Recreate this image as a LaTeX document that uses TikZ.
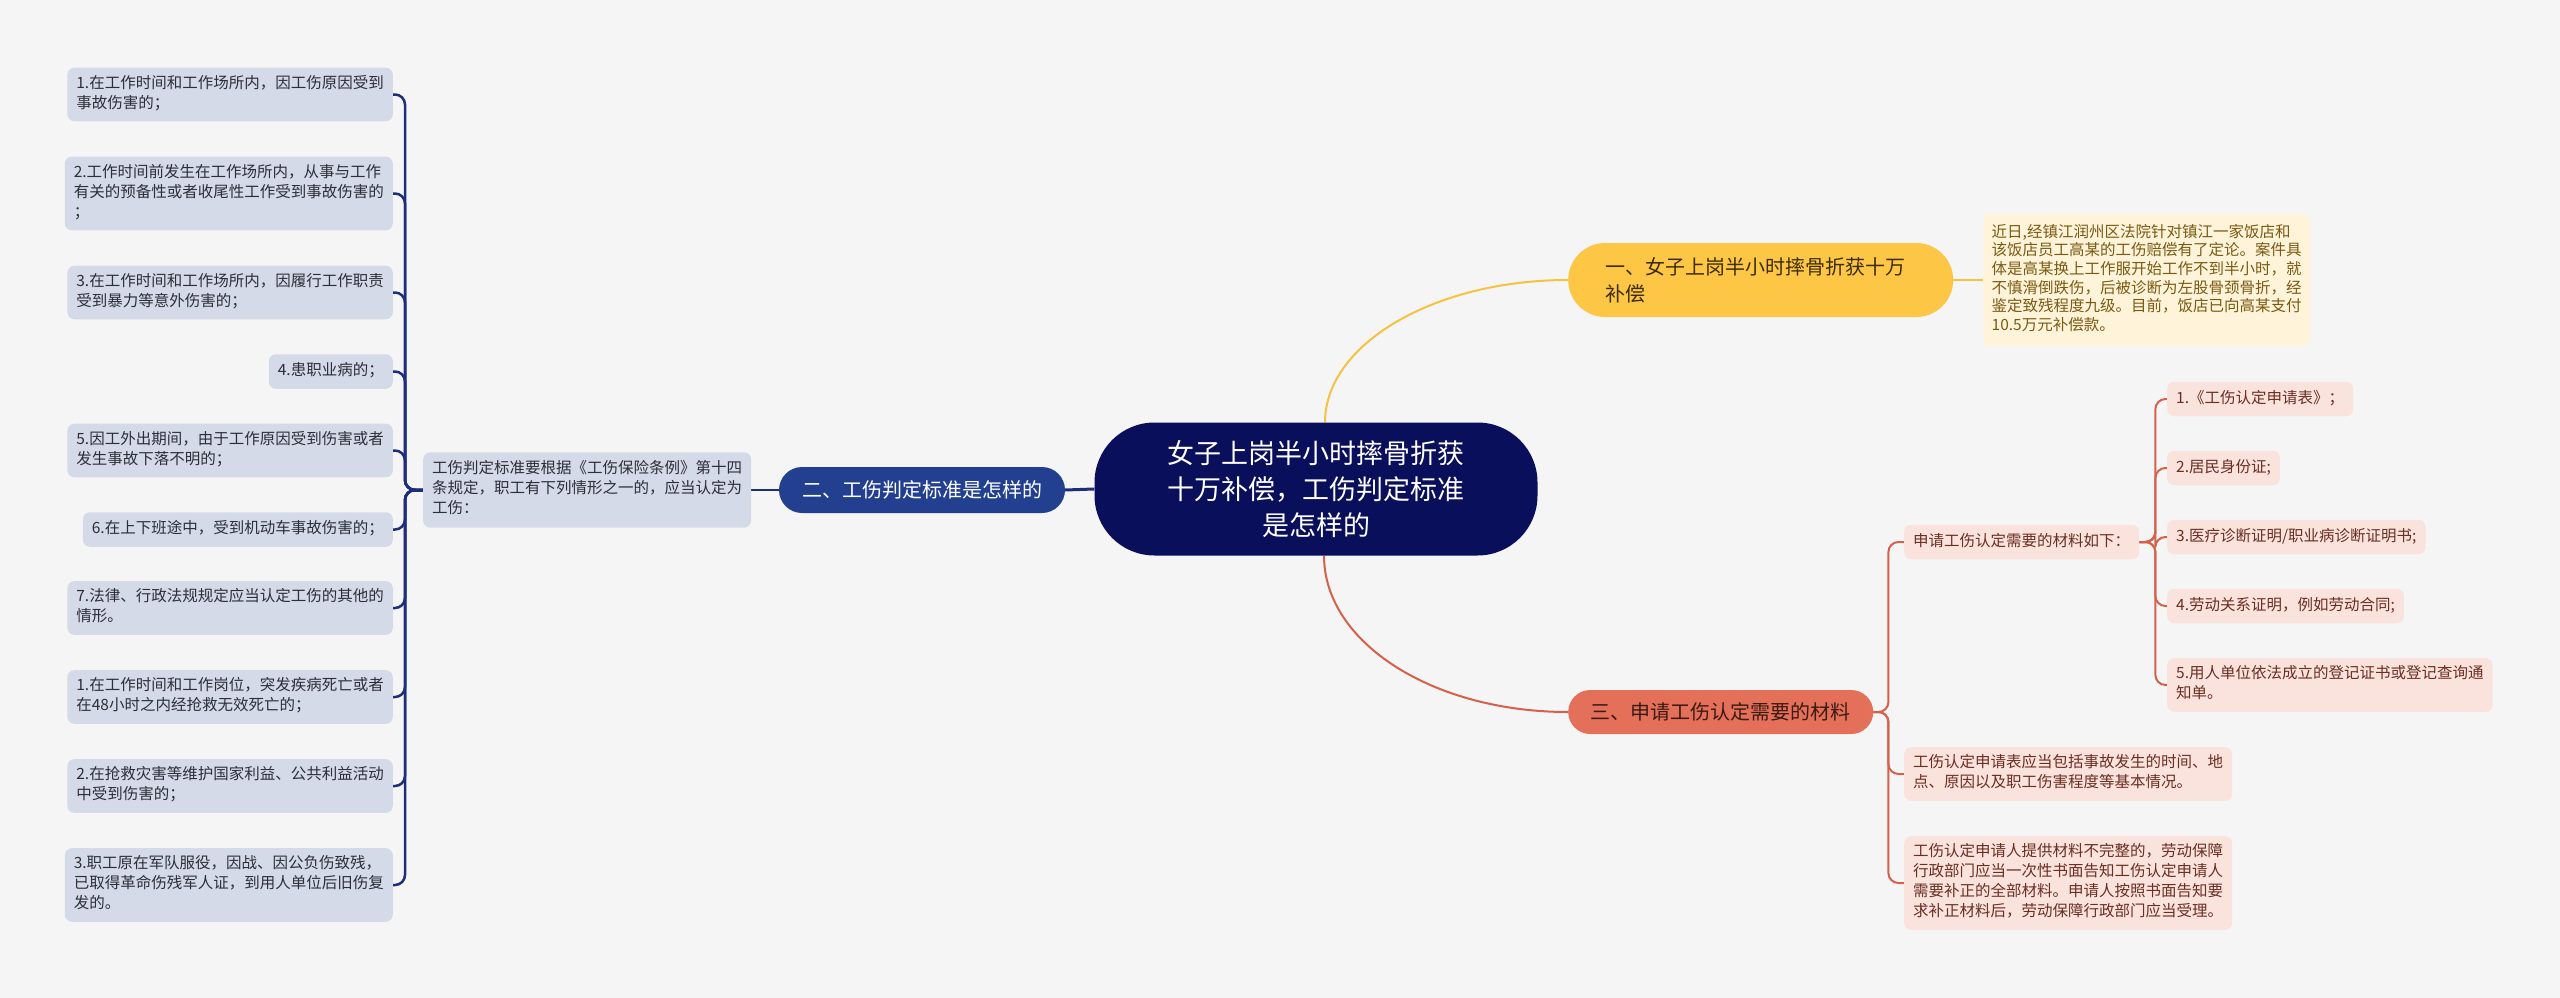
\documentclass[tikz,border=0pt]{standalone}
\usepackage{fontspec}
\usetikzlibrary{backgrounds}
\newfontfamily\cjk{Noto Sans CJK SC}
\definecolor{bg}{HTML}{F5F5F5}
\definecolor{cfill}{HTML}{0A0F5C}
\definecolor{bfill}{HTML}{22408F}
\definecolor{navy}{HTML}{1D2F7A}
\definecolor{lfill}{HTML}{D4DAE8}
\definecolor{ltext}{HTML}{2E2E38}
\definecolor{yfill}{HTML}{FEC645}
\definecolor{ytext}{HTML}{3B2C05}
\definecolor{yline}{HTML}{F5C342}
\definecolor{dfill}{HTML}{FFF4DA}
\definecolor{dtext}{HTML}{7A5A12}
\definecolor{rfill}{HTML}{E4705A}
\definecolor{rtextdark}{HTML}{3A1A12}
\definecolor{rline}{HTML}{D5614C}
\definecolor{pfill}{HTML}{FAE3DD}
\definecolor{ptext}{HTML}{6A2E22}
\tikzset{
  smallbox/.style={rounded corners=7pt, align=left, inner xsep=9pt, inner ysep=7.25pt,
    font=\cjk\fontsize{15.5}{20}\selectfont,
    execute at begin node=\strut, execute at end node=\strut},
  leftitem/.style={smallbox, fill=lfill, text=ltext, anchor=east},
  rightitem/.style={smallbox, fill=pfill, text=ptext, anchor=west},
  navyline/.style={draw=navy, line width=2.5pt, rounded corners=10pt},
  redline/.style={draw=rline, line width=2pt, rounded corners=10pt},
  yelline/.style={draw=yline, line width=2pt},
}
\begin{document}
\begin{tikzpicture}[x=1pt,y=-1pt]
\begin{pgfonlayer}{background}
\fill[bg] (0,0) rectangle (2560,998);
\end{pgfonlayer}
\useasboundingbox (0,0) rectangle (2560,998);

% central
\node[fill=cfill, text=white, rounded corners=60pt, minimum width=443pt, minimum height=133pt,
  align=center, inner sep=0pt, font=\cjk\fontsize{27}{36}\selectfont] (c) at (1316,489)
  {女子上岗半小时摔骨折获\\十万补偿，工伤判定标准\\是怎样的};

% branch 2 (left)
\node[fill=bfill, text=white, rounded corners=23pt, minimum width=286pt, minimum height=46pt,
  inner sep=0pt, font=\cjk\fontsize{20}{26}\selectfont] (n2) at (922,490) {二、工伤判定标准是怎样的};
\node[smallbox, fill=lfill, text=ltext, anchor=west, inner ysep=8pt] (lroot) at (423,490)
  {工伤判定标准要根据《工伤保险条例》第十四\\条规定，职工有下列情形之一的，应当认定为\\工伤：};

\node[leftitem] (l1) at (393,94.5) {1.在工作时间和工作场所内，因工伤原因受到\\事故伤害的；};
\node[leftitem] (l2) at (393,193.5) {2.工作时间前发生在工作场所内，从事与工作\\有关的预备性或者收尾性工作受到事故伤害的\\；};
\node[leftitem] (l3) at (393,292.5) {3.在工作时间和工作场所内，因履行工作职责\\受到暴力等意外伤害的；};
\node[leftitem] (l4) at (393,371.5) {4.患职业病的；};
\node[leftitem] (l5) at (393,450.5) {5.因工外出期间，由于工作原因受到伤害或者\\发生事故下落不明的；};
\node[leftitem] (l6) at (393,529.5) {6.在上下班途中，受到机动车事故伤害的；};
\node[leftitem] (l7) at (393,608) {7.法律、行政法规规定应当认定工伤的其他的\\情形。};
\node[leftitem] (l8) at (393,697) {1.在工作时间和工作岗位，突发疾病死亡或者\\在48小时之内经抢救无效死亡的；};
\node[leftitem] (l9) at (393,786) {2.在抢救灾害等维护国家利益、公共利益活动\\中受到伤害的；};
\node[leftitem] (l10) at (393,885) {3.职工原在军队服役，因战、因公负伤致残，\\已取得革命伤残军人证，到用人单位后旧伤复\\发的。};

% branch 1 (yellow)
\node[fill=yfill, text=ytext, rounded corners=37pt, anchor=west, text width=311pt, inner xsep=37pt,
  minimum height=74pt, align=left, font=\cjk\fontsize{20}{27}\selectfont] (y1) at (1568,280)
  {一、女子上岗半小时摔骨折获十万\\补偿};
\node[smallbox, fill=dfill, text=dtext, anchor=west, inner xsep=8.5pt, inner ysep=10.2pt,
  rounded corners=6pt, font=\cjk\fontsize{15.5}{18.6}\selectfont] (yd) at (1983,280)
  {近日,经镇江润州区法院针对镇江一家饭店和\\该饭店员工高某的工伤赔偿有了定论。案件具\\体是高某换上工作服开始工作不到半小时，就\\不慎滑倒跌伤，后被诊断为左股骨颈骨折，经\\鉴定致残程度九级。目前，饭店已向高某支付\\10.5万元补偿款。};

% branch 3 (red)
\node[fill=rfill, text=rtextdark, rounded corners=22pt, anchor=west, minimum width=305pt,
  minimum height=44pt, inner sep=0pt, font=\cjk\fontsize{20}{26}\selectfont] (r3) at (1568,712)
  {三、申请工伤认定需要的材料};
\node[rightitem] (rm) at (1904,542) {申请工伤认定需要的材料如下：};
\node[rightitem] (ra) at (1904,774) {工伤认定申请表应当包括事故发生的时间、地\\点、原因以及职工伤害程度等基本情况。};
\node[rightitem] (rb) at (1904,883) {工伤认定申请人提供材料不完整的，劳动保障\\行政部门应当一次性书面告知工伤认定申请人\\需要补正的全部材料。申请人按照书面告知要\\求补正材料后，劳动保障行政部门应当受理。};

\node[rightitem] (m1) at (2167,399) {1.《工伤认定申请表》；};
\node[rightitem] (m2) at (2167,468) {2.居民身份证;};
\node[rightitem] (m3) at (2167,537) {3.医疗诊断证明/职业病诊断证明书;};
\node[rightitem] (m4) at (2167,606) {4.劳动关系证明，例如劳动合同;};
\node[rightitem] (m5) at (2167,685) {5.用人单位依法成立的登记证书或登记查询通\\知单。};

% connectors
\begin{pgfonlayer}{background}
\draw[draw=navy, line width=3pt] (c.west) -- (n2.east);
\draw[draw=navy, line width=2.5pt] (n2.west) -- (lroot.east);
\foreach \i in {l1,l2,l3,l4,l5,l6,l7,l8,l9,l10}
  \draw[navyline] (lroot.west) -- ++(-18,0) |- (\i.east);

\draw[yelline] ([xshift=9pt]c.north) .. controls +(0,-78) and +(-134,0) .. (y1.west);
\draw[yelline] (y1.east) -- (yd.west);

\draw[draw=rline, line width=2pt] ([xshift=8pt]c.south) .. controls +(0,87) and +(-135,0) .. (r3.west);
\foreach \i in {rm,ra,rb}
  \draw[redline] (r3.east) -- ++(15,0) |- (\i.west);
\foreach \i in {m1,m2,m3,m4,m5}
  \draw[redline] (rm.east) -- ++(16,0) |- (\i.west);
\end{pgfonlayer}
\end{tikzpicture}
\end{document}
